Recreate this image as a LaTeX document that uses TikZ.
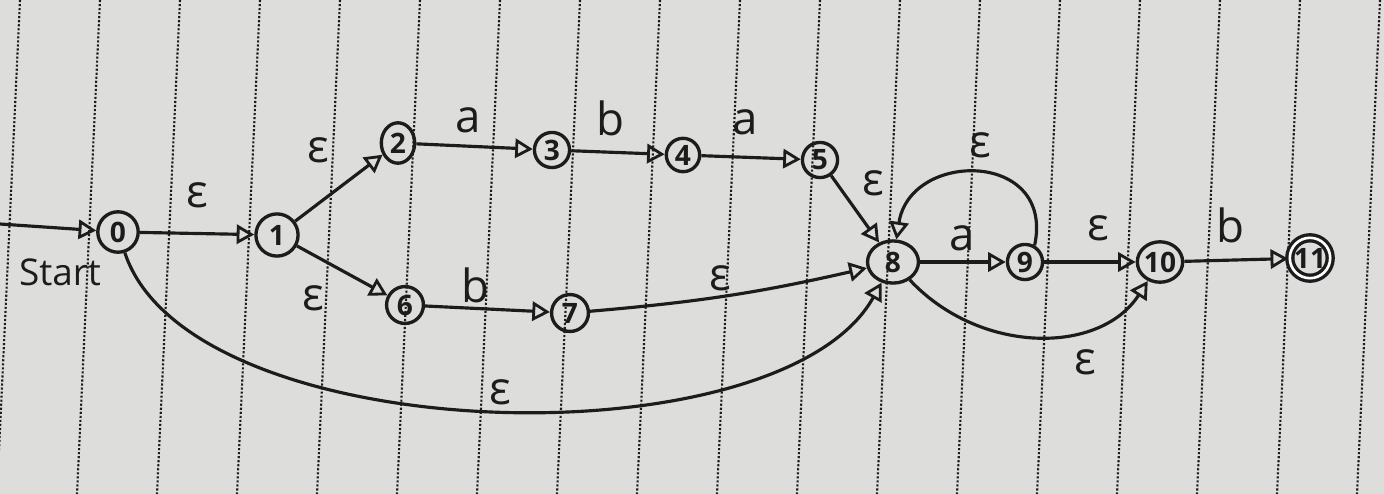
\documentclass[tikz,border=0pt]{standalone}
\usepackage{fontspec}
\setmainfont{Open Sans}
\usepackage{xcolor}
\usetikzlibrary{arrows.meta, shapes.geometric}
\definecolor{paper}{RGB}{221,222,220}
\definecolor{ink}{RGB}{28,28,28}

\begin{document}
\begin{tikzpicture}[x=0.02cm, y=-0.02cm,
    state/.style={circle, draw=ink, line width=1.9pt, inner sep=0pt, minimum size=20pt,
      font=\fontsize{16}{16}\selectfont\bfseries, text=ink},
    accept/.style={state, double, double distance=1.5pt, minimum size=23pt},
    edge/.style={draw=ink, line width=1.8pt, -{Triangle[open, length=10pt, width=11pt, line width=1.6pt]}},
    lbl/.style={font=\fontsize{26}{26}\selectfont, text=ink, inner sep=0pt},
    ruling/.style={ink, line width=1.2pt, dash pattern=on 1.2pt off 1.1pt}]
      % paper
      \fill[paper] (0,0) rectangle (1384,494);
      \useasboundingbox (0,0) rectangle (1384,494);
      \foreach \i in {0,...,17}{
        \draw[ruling] ({20+80*\i},0) -- ({-3+80*\i},494);
      }

      % states
      \node[state, minimum size=23pt] (s0) at (118,232) {0};
      \node[state, minimum size=24pt] (s1) at (277,235) {1};
      \node[state, ellipse, minimum width=19pt, minimum height=23pt] (s2) at (398,143) {2};
      \node[state, minimum size=20pt] (s3) at (552,150) {3};
      \node[state, minimum size=19pt] (s4) at (683,155) {4};
      \node[state, minimum size=20pt] (s5) at (820,160) {5};
      \node[state, minimum size=21pt] (s6) at (405,305) {6};
      \node[state, minimum size=21pt] (s7) at (570,313) {7};
      \node[state, ellipse, minimum width=29pt, minimum height=24pt] (s8) at (893,262) {8};
      \node[state, minimum size=20pt] (s9) at (1025,262) {9};
      \node[state, ellipse, minimum width=25pt, minimum height=23pt] (s10) at (1160,262) {10};
      \node[accept] (s11) at (1310,258) {11};
      \coordinate (start) at (0,224);

      % transitions
      \draw[edge] (start) -- (s0);
      \draw[edge] (s0) -- (s1);
      \draw[edge] (s1) -- (s2);
      \draw[edge] (s2) -- (s3);
      \draw[edge] (s3) -- (s4);
      \draw[edge] (s4) -- (s5);
      \draw[edge] (s5) -- (s8);
      \draw[edge] (s1) -- (s6);
      \draw[edge] (s6) -- (s7);
      \draw[edge] (s7) to[bend right=4] (s8);
      \draw[edge] (s0) .. controls (190,450) and (780,465) .. (s8);
      \draw[edge] (s8) -- (s9);
      \draw[edge] (s9.60) .. controls (1055,150) and (910,150) .. (s8);
      \draw[edge] (s9) -- (s10);
      \draw[edge] (s8) .. controls (980,355) and (1100,355) .. (s10);
      \draw[edge] (s10) -- (s11);

      % labels
      \node[lbl, font=\fontsize{21}{21}\selectfont] (lstart) at (60,272) {Start};
      \node[lbl] (l01) at (197,195) {ε};
      \node[lbl] (l12) at (318,150) {ε};
      \node[lbl] (l23) at (468,120) {a};
      \node[lbl] (l34) at (610,118) {b};
      \node[lbl] (l45) at (745,122) {a};
      \node[lbl] (l58) at (873,183) {ε};
      \node[lbl] (l16) at (313,298) {ε};
      \node[lbl] (l67) at (475,285) {b};
      \node[lbl] (l78) at (720,278) {ε};
      \node[lbl] (l08) at (500,392) {ε};
      \node[lbl] (l98) at (980,145) {ε};
      \node[lbl] (l89) at (962,238) {a};
      \node[lbl] (l910) at (1098,228) {ε};
      \node[lbl] (l810) at (1085,362) {ε};
      \node[lbl] (l1011) at (1230,225) {b};
    \end{tikzpicture}
\end{document}
